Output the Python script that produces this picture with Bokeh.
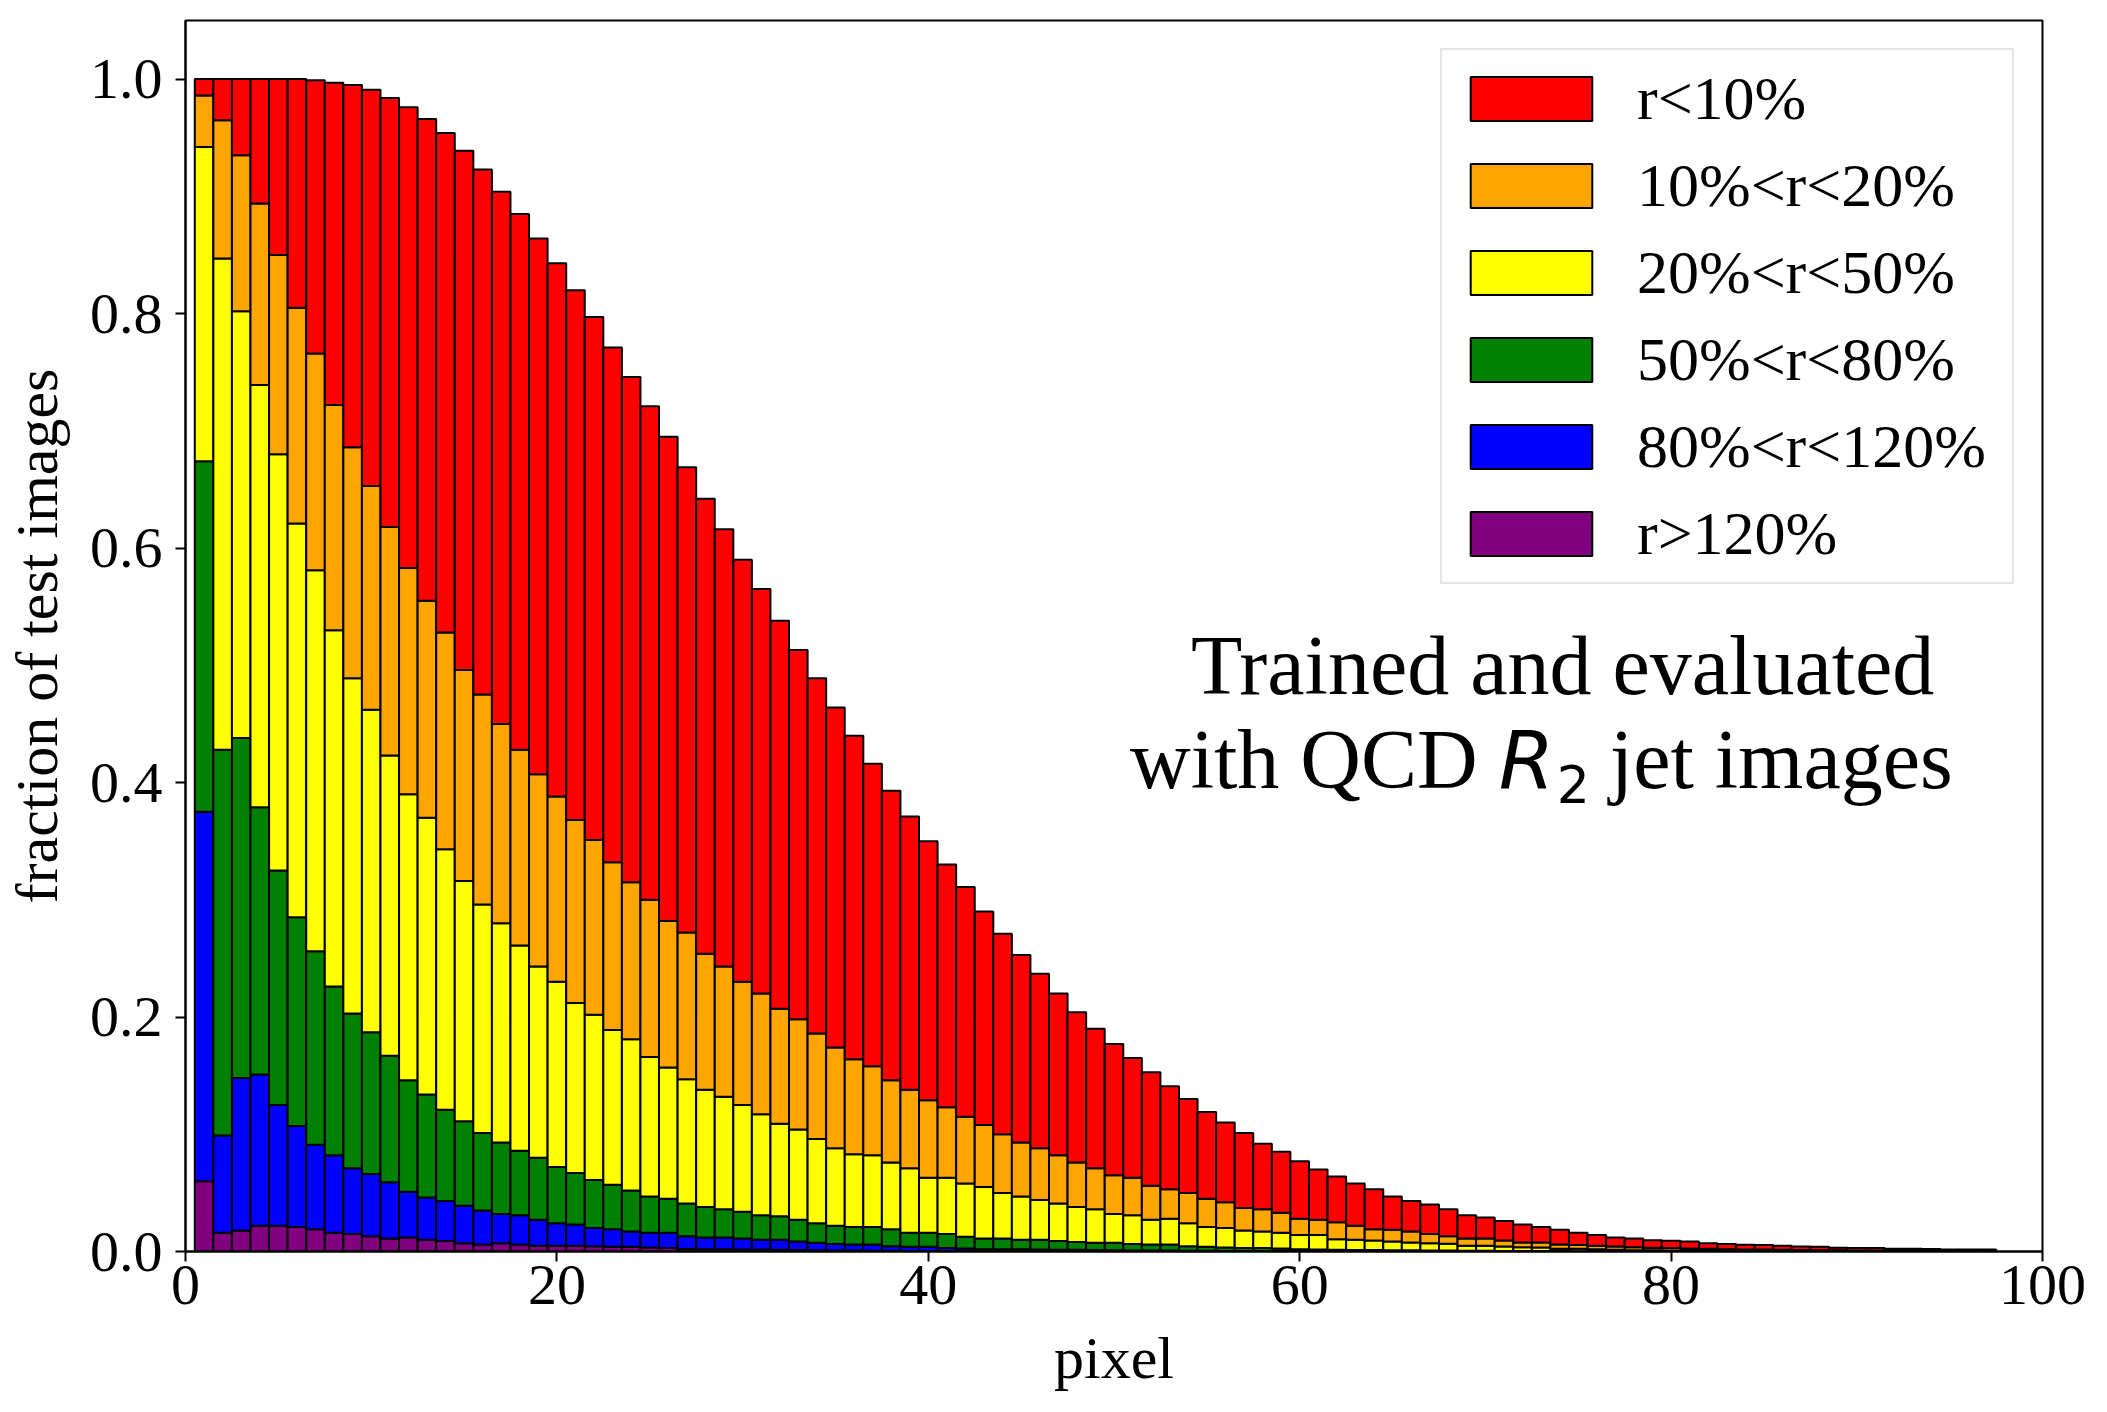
from bokeh.plotting import figure
from bokeh.models import Range1d, FixedTicker, PrintfTickFormatter, Legend, LegendItem, Label
from bokeh.embed import file_html
from bokeh.resources import INLINE

# pixel index of each bar
pixels = list(range(1, 98))

# cumulative tops of each stacked layer
cum_purple = [0.060, 0.016, 0.018, 0.022, 0.022, 0.021, 0.019, 0.016, 0.015, 0.013,
              0.011, 0.012, 0.010, 0.009, 0.007, 0.006, 0.007, 0.006, 0.005, 0.005,
              0.005, 0.0045, 0.004, 0.004, 0.0035, 0.003, 0.0022, 0.002, 0.002, 0.0018,
              0.0016, 0.0015, 0.0012, 0.001, 0.0009, 0.0008, 0.0007, 0.0006, 0.0005, 0.0004,
              0.0004, 0.0003, 0.0003, 0.0003, 0.0002, 0.0002, 0.0002, 0.0001, 0.0001, 0.0001,
              0, 0, 0, 0, 0, 0, 0, 0, 0, 0,
              0, 0, 0, 0, 0, 0, 0, 0, 0, 0,
              0, 0, 0, 0, 0, 0, 0, 0, 0, 0,
              0, 0, 0, 0, 0, 0, 0, 0, 0, 0,
              0, 0, 0, 0, 0, 0, 0]

cum_blue = [0.375, 0.099, 0.148, 0.151, 0.125, 0.107, 0.091, 0.082, 0.071, 0.066,
            0.059, 0.051, 0.046, 0.043, 0.039, 0.035, 0.032, 0.031, 0.027, 0.024,
            0.023, 0.020, 0.019, 0.017, 0.016, 0.016, 0.013, 0.012, 0.012, 0.011,
            0.010, 0.010, 0.0085, 0.0075, 0.0065, 0.006, 0.006, 0.0045, 0.004, 0.004,
            0.003, 0.0025, 0.002, 0.002, 0.002, 0.0018, 0.0015, 0.0014, 0.0012, 0.001,
            0.0009, 0.0008, 0.0008, 0.0007, 0.0006, 0.0005, 0.0005, 0.0004, 0.0004, 0.0003,
            0.0003, 0.0002, 0.0002, 0.0002, 0.0002, 0.0001, 0.0001, 0.0001, 0.0001, 0.0001,
            0, 0, 0, 0, 0, 0, 0, 0, 0, 0,
            0, 0, 0, 0, 0, 0, 0, 0, 0, 0,
            0, 0, 0, 0, 0, 0, 0]

cum_green = [0.674, 0.428, 0.438, 0.379, 0.325, 0.285, 0.256, 0.226, 0.203, 0.187,
             0.167, 0.146, 0.134, 0.121, 0.111, 0.101, 0.093, 0.086, 0.080, 0.072,
             0.067, 0.061, 0.057, 0.052, 0.047, 0.045, 0.041, 0.038, 0.036, 0.034,
             0.031, 0.030, 0.027, 0.024, 0.022, 0.021, 0.021, 0.019, 0.016, 0.016,
             0.015, 0.0125, 0.011, 0.011, 0.010, 0.010, 0.009, 0.008, 0.0075, 0.0075,
             0.0065, 0.006, 0.006, 0.0045, 0.004, 0.0035, 0.003, 0.003, 0.0025, 0.002,
             0.0018, 0.0015, 0.0013, 0.0012, 0.001, 0.001, 0.0009, 0.0008, 0.0007, 0.0006,
             0.0005, 0.0005, 0.0004, 0.0004, 0.0003, 0.0003, 0.0003, 0.0002, 0.0002, 0.0002,
             0.0001, 0.0001, 0.0001, 0.0001, 0.0001, 0, 0, 0, 0, 0,
             0, 0, 0, 0, 0, 0, 0]

cum_yellow = [0.942, 0.847, 0.802, 0.739, 0.680, 0.621, 0.581, 0.530, 0.489, 0.462,
              0.423, 0.390, 0.370, 0.343, 0.316, 0.296, 0.280, 0.261, 0.243, 0.230,
              0.212, 0.202, 0.189, 0.181, 0.166, 0.157, 0.147, 0.138, 0.132, 0.125,
              0.117, 0.109, 0.104, 0.096, 0.088, 0.083, 0.082, 0.076, 0.071, 0.063,
              0.063, 0.058, 0.055, 0.050, 0.047, 0.044, 0.041, 0.038, 0.036, 0.032,
              0.031, 0.027, 0.028, 0.024, 0.021, 0.020, 0.018, 0.017, 0.016, 0.014,
              0.014, 0.0105, 0.010, 0.0094, 0.0085, 0.0077, 0.0071, 0.0066, 0.005, 0.005,
              0.0043, 0.0037, 0.0034, 0.0023, 0.0023, 0.002, 0.0014, 0.0011, 0.0011, 0.0009,
              0.0008, 0.0007, 0.0006, 0.0005, 0.0005, 0.0004, 0.0003, 0.0003, 0.0003, 0.0002,
              0.0002, 0.0002, 0.0001, 0.0001, 0.0001, 0.0001, 0.0001]

cum_orange = [0.986, 0.965, 0.935, 0.894, 0.850, 0.805, 0.766, 0.722, 0.686, 0.653,
              0.618, 0.583, 0.555, 0.528, 0.496, 0.475, 0.450, 0.428, 0.407, 0.388,
              0.368, 0.351, 0.332, 0.315, 0.300, 0.282, 0.272, 0.254, 0.243, 0.230,
              0.220, 0.207, 0.198, 0.186, 0.174, 0.164, 0.158, 0.146, 0.138, 0.129,
              0.123, 0.115, 0.108, 0.100, 0.093, 0.088, 0.082, 0.076, 0.071, 0.065,
              0.063, 0.056, 0.053, 0.050, 0.045, 0.042, 0.037, 0.036, 0.033, 0.028,
              0.027, 0.025, 0.022, 0.019, 0.0185, 0.017, 0.015, 0.013, 0.011, 0.011,
              0.0094, 0.0077, 0.0077, 0.006, 0.0055, 0.005, 0.0043, 0.0037, 0.0031, 0.003,
              0.0026, 0.0024, 0.002, 0.0018, 0.0016, 0.0014, 0.0012, 0.0011, 0.001, 0.0009,
              0.0008, 0.0007, 0.0007, 0.0006, 0.0005, 0.0005, 0.0004]

cum_red = [1.000, 1.000, 1.000, 1.000, 1.000, 1.000, 0.999, 0.997, 0.995, 0.991,
           0.984, 0.976, 0.966, 0.954, 0.939, 0.923, 0.904, 0.885, 0.864, 0.843,
           0.820, 0.797, 0.771, 0.746, 0.721, 0.695, 0.669, 0.642, 0.616, 0.590,
           0.565, 0.538, 0.513, 0.489, 0.464, 0.440, 0.416, 0.393, 0.371, 0.350,
           0.330, 0.311, 0.290, 0.271, 0.253, 0.237, 0.220, 0.204, 0.190, 0.177,
           0.165, 0.153, 0.141, 0.130, 0.119, 0.110, 0.101, 0.092, 0.085, 0.077,
           0.070, 0.064, 0.058, 0.053, 0.047, 0.043, 0.040, 0.036, 0.031, 0.029,
           0.026, 0.023, 0.021, 0.0185, 0.016, 0.014, 0.012, 0.011, 0.0097, 0.0092,
           0.0086, 0.0071, 0.0063, 0.0057, 0.0055, 0.005, 0.0042, 0.004, 0.0032, 0.003,
           0.003, 0.0024, 0.0023, 0.0022, 0.0018, 0.0017, 0.0016]

layer_labels = ["r>120%", "80%<r<120%", "50%<r<80%", "20%<r<50%", "10%<r<20%", "r<10%"]
layer_colors = ["purple", "blue", "green", "yellow", "orange", "red"]
layer_tops = [cum_purple, cum_blue, cum_green, cum_yellow, cum_orange, cum_red]

x_ticks = [0, 20, 40, 60, 80, 100]
y_ticks = [0.0, 0.2, 0.4, 0.6, 0.8, 1.0]

SERIF = "Liberation Serif"

p = figure(width=2091, height=1396,
           x_range=Range1d(0, 100), y_range=Range1d(0, 1.05),
           output_backend="svg", toolbar_location=None,
           min_border_left=184, min_border_right=49,
           min_border_top=20, min_border_bottom=145)
p.background_fill_color = "white"
p.border_fill_color = "white"
p.grid.visible = False
p.outline_line_color = "black"
p.outline_line_width = 2

renderers = []
bottom = [0.0] * len(pixels)
for lab, col, tops in zip(layer_labels, layer_colors, layer_tops):
    r = p.vbar(x=pixels, width=1.0, bottom=bottom, top=tops,
               fill_color=col, line_color="black", line_width=2)
    renderers.append((lab, r))
    bottom = tops

items = [LegendItem(label=lab, renderers=[r]) for lab, r in reversed(renderers)]
legend = Legend(items=items, location="top_right", margin=28,
                glyph_width=152, glyph_height=55, label_standoff=30,
                label_width=362, padding=13, spacing=16,
                label_text_font=SERIF, label_text_font_size="62px",
                label_text_color="black", label_text_baseline="middle",
                border_line_color="#cccccc", border_line_width=2,
                background_fill_color="white", background_fill_alpha=0.8)
p.add_layout(legend, "center")

for ax in (p.xaxis, p.yaxis):
    ax.axis_line_width = 2
    ax.axis_line_color = "black"
    ax.major_tick_line_width = 2
    ax.major_tick_out = 10
    ax.major_tick_in = 0
    ax.minor_tick_out = 0
    ax.minor_tick_in = 0
    ax.major_label_text_font = SERIF
    ax.major_label_text_font_size = "58px"
    ax.major_label_text_color = "black"
    ax.axis_label_text_font = SERIF
    ax.axis_label_text_font_size = "60px"
    ax.axis_label_text_font_style = "normal"
    ax.axis_label_text_color = "black"

p.xaxis.ticker = FixedTicker(ticks=x_ticks)
p.yaxis.ticker = FixedTicker(ticks=y_ticks)
p.xaxis.formatter = PrintfTickFormatter(format="%d")
p.yaxis.formatter = PrintfTickFormatter(format="%.1f")
p.xaxis.major_label_standoff = 4
p.yaxis.major_label_standoff = 13
p.xaxis.axis_label = "pixel"
p.xaxis.axis_label_standoff = 18
p.yaxis.axis_label = "fraction of test images"
p.yaxis.axis_label_standoff = 17

# annotation
p.add_layout(Label(x=74.16, y=0.4998, text="Trained and evaluated", text_align="center",
                   text_baseline="alphabetic", text_font=SERIF, text_font_size="84px",
                   text_color="black"))
p.add_layout(Label(x=50.86, y=0.4195, text="with QCD", text_align="left",
                   text_baseline="alphabetic", text_font=SERIF, text_font_size="84px",
                   text_color="black"))
p.add_layout(Label(x=70.72, y=0.418, text="R", text_align="left",
                   text_baseline="alphabetic", text_font="DejaVu Sans", text_font_style="italic",
                   text_font_size="80px", text_color="black"))
p.add_layout(Label(x=73.84, y=0.399, text="2", text_align="left",
                   text_baseline="alphabetic", text_font="DejaVu Sans",
                   text_font_size="52px", text_color="black"))
p.add_layout(Label(x=76.70, y=0.4195, text="jet images", text_align="left",
                   text_baseline="alphabetic", text_font=SERIF, text_font_size="84px",
                   text_color="black"))

open("out.html", "w").write(file_html(p, INLINE))
